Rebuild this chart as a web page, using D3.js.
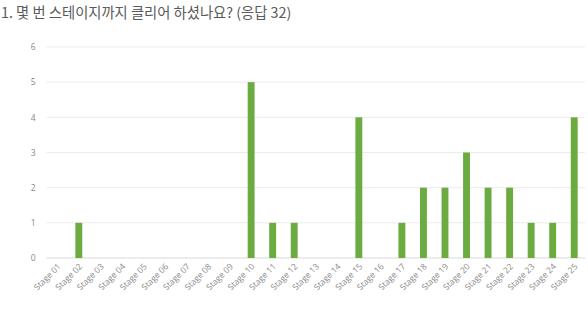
<!DOCTYPE html>
<html>
<head>
<meta charset="utf-8">
<script src="https://cdn.jsdelivr.net/npm/d3@7"></script>
<style>
  body { margin: 0; background: #fff; }
  svg { display: block; }
</style>
</head>
<body>
<div id="chart"></div>
<script>
// 데이터
const stages = ["Stage 01", "Stage 02", "Stage 03", "Stage 04", "Stage 05", "Stage 06", "Stage 07",
  "Stage 08", "Stage 09", "Stage 10", "Stage 11", "Stage 12", "Stage 13", "Stage 14", "Stage 15",
  "Stage 16", "Stage 17", "Stage 18", "Stage 19", "Stage 20", "Stage 21", "Stage 22", "Stage 23",
  "Stage 24", "Stage 25"];
const counts = [0, 1, 0, 0, 0, 0, 0, 0, 0, 5, 1, 1, 0, 0, 4, 0, 1, 2, 2, 3, 2, 2, 1, 1, 4];
const yTicks = [0, 1, 2, 3, 4, 5, 6];
const title = "1. 몇 번 스테이지까지 클리어 하셨나요? (응답 32)";

const width = 588, height = 310;
const margin = { top: 47, right: 3, bottom: 52, left: 46.5 };

const svg = d3.select("#chart").append("svg")
    .attr("width", width)
    .attr("height", height);

svg.append("text")
    .attr("x", 1)
    .attr("y", 18)
    .attr("font-family", "'Noto Sans CJK KR', 'Noto Sans', sans-serif")
    .attr("font-size", 14.3)
    .attr("fill", "#5a5a5a")
    .text(title);

const x = d3.scaleBand()
    .domain(stages)
    .range([margin.left, width - margin.right])
    .paddingInner(0.68)
    .paddingOuter(0.34);

const y = d3.scaleLinear()
    .domain([0, 6])
    .range([height - margin.bottom, margin.top]);

// 격자선
svg.append("g")
  .selectAll("line")
  .data(yTicks)
  .enter()
  .append("line")
    .attr("x1", margin.left)
    .attr("x2", width - margin.right)
    .attr("y1", d => y(d))
    .attr("y2", d => y(d))
    .attr("stroke", d => d === 0 ? "#d9d9d9" : "#ebebeb")
    .attr("stroke-width", 1);

// y축 라벨
const yAxis = svg.append("g")
    .attr("transform", `translate(${margin.left - 11},0)`)
    .call(d3.axisLeft(y).tickValues(yTicks).tickFormat(d3.format("d")).tickSize(0).tickPadding(0));
yAxis.select(".domain").remove();
yAxis.selectAll("text")
    .attr("font-family", "'Open Sans', sans-serif")
    .attr("font-size", 8.5)
    .attr("fill", "#888");

// 막대
svg.selectAll("rect.bar")
   .data(counts)
   .enter()
   .append("rect")
   .attr("class", "bar")
   .attr("x", (d, i) => x(stages[i]))
   .attr("y", d => y(d))
   .attr("width", x.bandwidth())
   .attr("height", d => y(0) - y(d))
   .attr("fill", "#6cab40");

// x축 라벨
const xAxis = svg.append("g")
    .attr("transform", `translate(0,${height - margin.bottom})`)
    .call(d3.axisBottom(x).tickSize(0).tickPadding(0));
xAxis.select(".domain").remove();
xAxis.selectAll("text")
    .attr("font-family", "'Open Sans', sans-serif")
    .attr("font-size", 8.5)
    .attr("fill", "#888")
    .attr("text-anchor", "end")
    .attr("dy", 0)
    .attr("transform", "translate(4,9) rotate(-45)");
</script>
</body>
</html>
